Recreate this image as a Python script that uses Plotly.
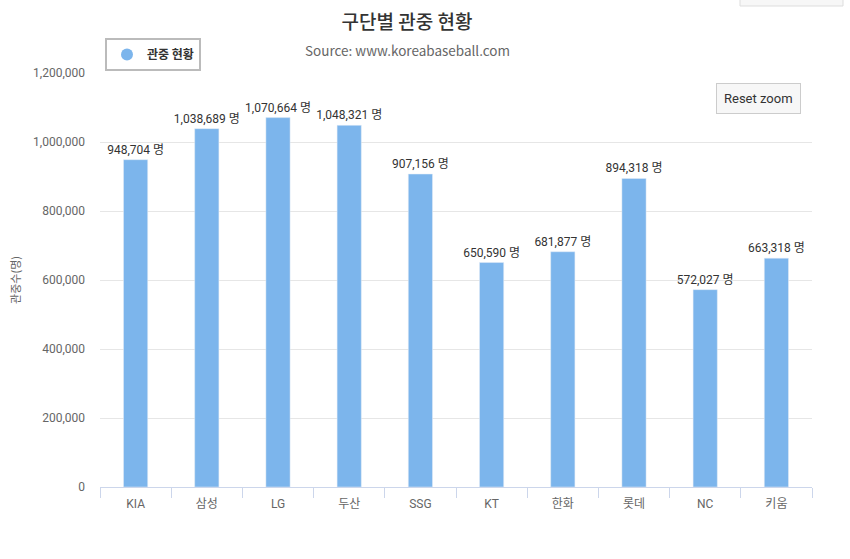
import plotly.graph_objects as go

teams = ["KIA", "삼성", "LG", "두산", "SSG", "KT", "한화", "롯데", "NC", "키움"]
attendance = [948704, 1038689, 1070664, 1048321, 907156, 650590, 681877, 894318, 572027, 663318]
y_ticks = [0, 200000, 400000, 600000, 800000, 1000000, 1200000]

FONT = "Roboto, Noto Sans CJK KR, sans-serif"
KFONT = "Noto Sans CJK KR, sans-serif"
BAR = "#7cb5ec"

W, H = 850, 559
L, R, T, B = 100, 38, 73, 72
plot_h = H - T - B
plot_w = W - L - R


def px_x(sx):
    return (sx - L) / plot_w


def px_y(sy):
    return (H - B - sy) / plot_h


fig = go.Figure()
fig.add_trace(go.Bar(
    x=teams, y=attendance, marker_color=BAR, width=0.34,
    text=attendance, texttemplate="%{text:,} 명", textposition="outside",
    constraintext="none",
    textfont=dict(size=12, color="#333333", family=FONT),
    cliponaxis=False, showlegend=False, name="관중 현황",
))
fig.add_trace(go.Scatter(
    x=[None], y=[None], mode="markers", name="<b>관중 현황</b>",
    marker=dict(symbol="circle", size=11, color=BAR),
))

fig.update_layout(
    width=W, height=H,
    margin=dict(l=L, r=R, t=T, b=B),
    paper_bgcolor="white", plot_bgcolor="white",
    font=dict(family=FONT, color="#666666"),
    title=dict(text="구단별 관중 현황", x=(407) / W, xanchor="center",
               y=1 - 22 / H, yanchor="middle",
               font=dict(size=19, color="#333333", family=KFONT, weight=500)),
    legend=dict(x=px_x(105), y=px_y(38), xanchor="left", yanchor="top",
                bordercolor="#bbbbbb", borderwidth=2, bgcolor="white",
                font=dict(size=12, color="#333333", family=KFONT),
                itemsizing="constant"),
    xaxis=dict(showgrid=False, showline=True, linecolor="#ccd6eb", linewidth=1,
               ticks="outside", tickson="boundaries", ticklen=10, tickcolor="#ccd6eb",
               ticklabelstandoff=6,
               tickfont=dict(size=12, color="#666666", family=FONT), fixedrange=True),
    yaxis=dict(range=[0, 1200000], tickvals=y_ticks, tickformat=",",
               showgrid=True, gridcolor="#e6e6e6", zeroline=False,
               tickfont=dict(size=12, color="#666666", family=FONT), ticks="",
               ticklabelstandoff=14,
               title=dict(text="관중수(명)", font=dict(size=11, color="#666666", family=KFONT),
                          standoff=10)),
    bargap=0.66,
)
fig.add_annotation(
    text="Source: www.koreabaseball.com", x=px_x(407), y=px_y(50), xref="paper", yref="paper",
    xanchor="center", yanchor="middle",
    showarrow=False, font=dict(size=13.5, color="#666666", family=KFONT),
)
fig.add_annotation(
    text="Reset zoom", x=px_x(758), y=px_y(98), xref="paper", yref="paper",
    xanchor="center", yanchor="middle",
    showarrow=False, bgcolor="#f7f7f7", bordercolor="#cccccc", borderwidth=1, borderpad=7,
    font=dict(size=13, color="#333333", family=FONT),
)
fig.add_shape(type="rect", xref="paper", yref="paper",
              x0=px_x(740), x1=px_x(843), y0=px_y(6), y1=px_y(-4),
              fillcolor="#f7f7f7", line=dict(color="#dddddd", width=1), layer="above")

fig.write_html("out.html", config={"displayModeBar": False},
               post_script="document.body.style.margin='0';document.body.style.overflow='hidden';")
